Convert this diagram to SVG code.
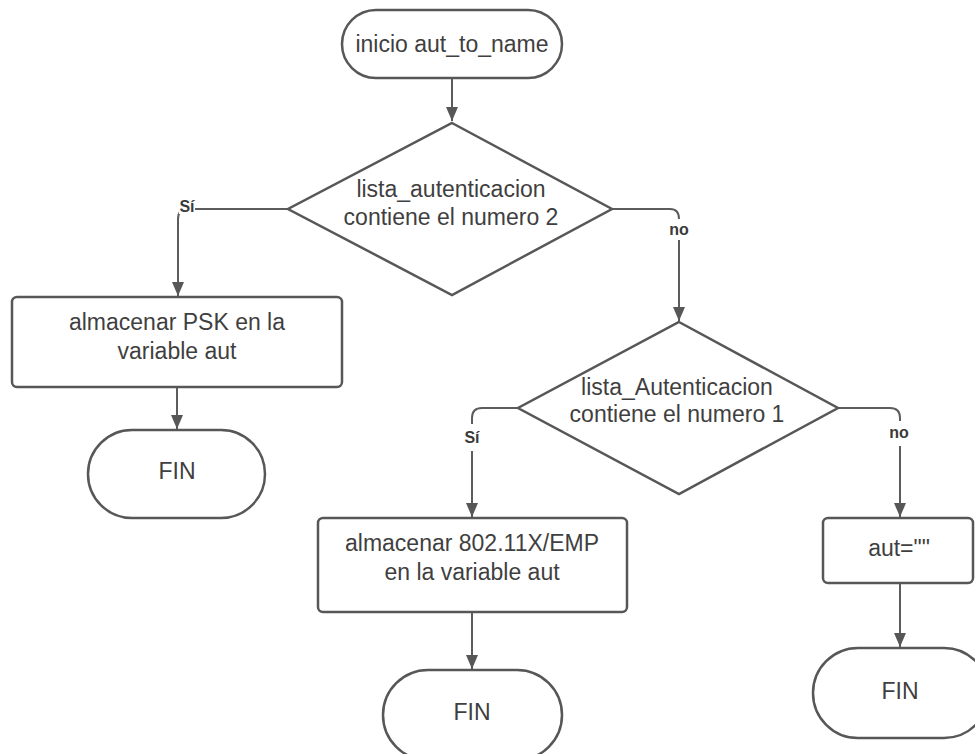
<svg xmlns="http://www.w3.org/2000/svg" width="975" height="754" viewBox="0 0 975 754">
  <style>
    .shape { fill: #ffffff; stroke: #575757; stroke-width: 2.5; }
    .edge { fill: none; stroke: #5c5c5c; stroke-width: 2; }
    .txt { font-family: "Liberation Sans", Arial, sans-serif; font-size: 23px; fill: #3f3f3f; text-anchor: middle; }
    .lbl { font-family: "Liberation Sans", Arial, sans-serif; font-size: 16px; font-weight: bold; fill: #3a3a3a; text-anchor: middle; }
    .mask { fill: #ffffff; }
  </style>
  <defs>
    <marker id="arrow" markerUnits="userSpaceOnUse" markerWidth="14" markerHeight="16" refX="14" refY="6" orient="auto">
      <path d="M0,0 L14,6 L0,12 Z" fill="#575757"/>
    </marker>
  </defs>
  <rect width="975" height="754" fill="#ffffff"/>

  <!-- connectors -->
  <g id="connectors">
    <path class="edge" d="M452 78 V121" marker-end="url(#arrow)"/>
    <path class="edge" d="M288 209 H188 Q178 209 178 219 V296" marker-end="url(#arrow)"/>
    <path class="edge" d="M612 209 H670 Q679 209 679 219 V321" marker-end="url(#arrow)"/>
    <path class="edge" d="M177 387 V429" marker-end="url(#arrow)"/>
    <path class="edge" d="M518 408 H482 Q472 408 472 418 V517" marker-end="url(#arrow)"/>
    <path class="edge" d="M838 408 H890 Q900 408 900 418 V517" marker-end="url(#arrow)"/>
    <path class="edge" d="M472 612 V669" marker-end="url(#arrow)"/>
    <path class="edge" d="M900 583 V647" marker-end="url(#arrow)"/>
    <!-- branch labels -->
    <rect class="mask" x="179" y="199" width="16" height="15"/>
    <text class="lbl" x="187" y="212">Sí</text>
    <rect class="mask" x="668" y="219" width="22" height="21"/>
    <text class="lbl" x="679" y="235">no</text>
    <rect class="mask" x="462" y="424" width="20" height="27"/>
    <text class="lbl" x="472" y="443">Sí</text>
    <rect class="mask" x="888" y="421" width="22" height="25"/>
    <text class="lbl" x="899" y="438">no</text>
  </g>

  <g id="start">
    <rect class="shape" x="342" y="10" width="220" height="68" rx="34"/>
    <text class="txt" x="452" y="52">inicio aut_to_name</text>
  </g>

  <g id="decision1">
    <polygon class="shape" points="452,123 612,209 452,295 288,209"/>
    <text class="txt" x="451" y="197">lista_autenticacion</text>
    <text class="txt" x="451" y="225">contiene el numero 2</text>
  </g>

  <g id="store-psk">
    <rect class="shape" x="12" y="297" width="330" height="90" rx="5"/>
    <text class="txt" x="177" y="330">almacenar PSK en la</text>
    <text class="txt" x="177" y="359">variable aut</text>
  </g>

  <g id="end1">
    <rect class="shape" x="88" y="430" width="177" height="88" rx="44"/>
    <text class="txt" x="177" y="479">FIN</text>
  </g>

  <g id="decision2">
    <polygon class="shape" points="679,322 838,408 679,494 518,408"/>
    <text class="txt" x="677" y="395">lista_Autenticacion</text>
    <text class="txt" x="677" y="422">contiene el numero 1</text>
  </g>

  <g id="store-8021x">
    <rect class="shape" x="318" y="518" width="309" height="94" rx="5"/>
    <text class="txt" x="472" y="551">almacenar 802.11X/EMP</text>
    <text class="txt" x="472" y="580">en la variable aut</text>
  </g>

  <g id="end2">
    <rect class="shape" x="383" y="670" width="179" height="90" rx="45"/>
    <text class="txt" x="472" y="720">FIN</text>
  </g>

  <g id="assign-empty">
    <rect class="shape" x="823" y="518" width="150" height="65" rx="5"/>
    <text class="txt" x="899" y="556">aut=""</text>
  </g>

  <g id="end3">
    <rect class="shape" x="813" y="648" width="176" height="90" rx="45"/>
    <text class="txt" x="900" y="699">FIN</text>
  </g>
</svg>
